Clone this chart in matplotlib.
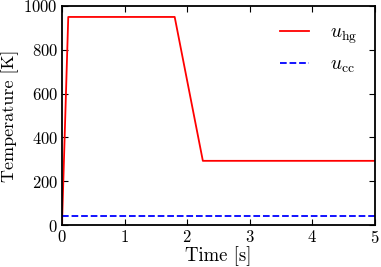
import matplotlib
matplotlib.use("Agg")
import matplotlib.pyplot as plt

t_hg = [0.0, 0.1, 1.8, 2.25, 5.0]
u_hg = [0.0, 950.0, 950.0, 293.0, 293.0]
t_cc = [0.0, 5.0]
u_cc = [40.0, 40.0]

plt.rcParams['font.family'] = ['cmr10', 'DejaVu Serif']
plt.rcParams['mathtext.fontset'] = 'cm'
plt.rcParams['axes.formatter.use_mathtext'] = True

fig = plt.figure(figsize=(3.81, 2.67), dpi=100)
ax = fig.add_axes([62/381, 1-225/267, (375-62)/381, (225-6)/267])
ax.plot(t_hg, u_hg, color='red', lw=1.3, label=r'$u_\mathrm{hg}$')
ax.plot(t_cc, u_cc, color='blue', lw=1.3, ls='--', label=r'$u_\mathrm{cc}$')
ax.set_xlim(0, 5)
ax.set_ylim(0, 1000)
ax.set_xticks([0, 1, 2, 3, 4, 5])
ax.set_yticks([0, 200, 400, 600, 800, 1000])
ax.tick_params(direction='in', top=True, right=True, labelsize=12, length=4, width=0.8, pad=3)
ax.set_xlabel('Time [s]', fontsize=13.5, labelpad=0)
ax.set_ylabel('Temperature [K]', fontsize=13)
ax.yaxis.set_label_coords(-0.137, 0.5)
for s in ax.spines.values():
    s.set_linewidth(1.3)
ax.legend(frameon=False, loc='upper right', fontsize=14, handlelength=1.5,
          handletextpad=1.1, borderaxespad=0.5, labelspacing=0.5)
fig.savefig('out.png', dpi=100)
